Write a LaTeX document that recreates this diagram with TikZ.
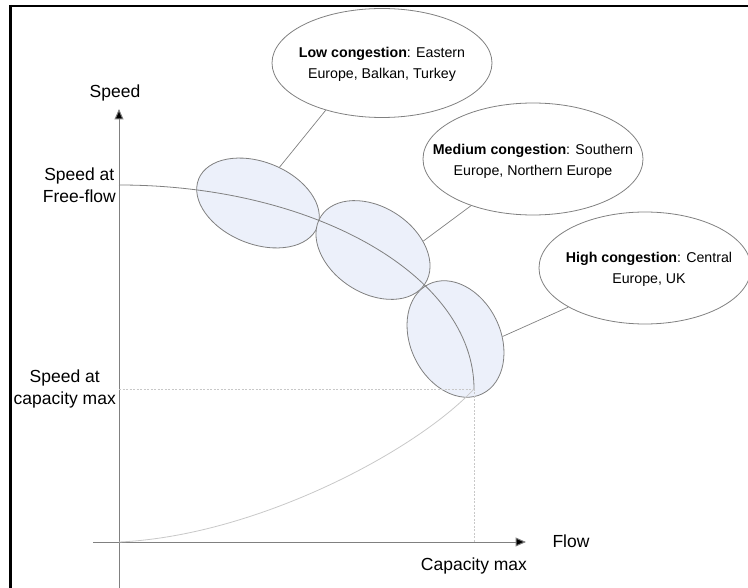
\documentclass[tikz,border=0pt]{standalone}
\usepackage{fontspec}
\setmainfont{Liberation Sans}
\usetikzlibrary{shapes.geometric,arrows.meta}
\definecolor{axisgray}{HTML}{808080}
\definecolor{lightcurve}{HTML}{C8C8C8}
\definecolor{bubble}{HTML}{ECF0FA}
\begin{document}
\begin{tikzpicture}[x=1pt,y=-1pt,
  regime/.style={ellipse,draw=axisgray,line width=0.8pt,fill=bubble,inner sep=0pt},
  callout/.style={ellipse,draw=axisgray,line width=0.8pt,fill=white,inner sep=0pt},
  callouttext/.style={align=center,inner sep=0pt,font=\fontsize{14.2}{21}\selectfont},
  axislabel/.style={align=center,inner sep=0pt,font=\fontsize{17.5}{22}\selectfont},
  axisline/.style={draw=axisgray,line width=1pt,-{Triangle[length=10.5pt,width=9pt,fill=black]}},
  guide/.style={draw=lightcurve,line width=0.8pt,dash pattern=on 2pt off 1.5pt},
  leader/.style={draw=axisgray,line width=0.7pt}]
\useasboundingbox (0,0) rectangle (748,588);

% page frame
\draw[line width=2pt] (9,6) -- (748,6);
\draw[line width=3pt] (10.5,5) -- (10.5,588);

% key points of the speed-flow diagram
\coordinate (origin) at (119,542);
\coordinate (free) at (119,185);
\coordinate (cap) at (474,389);
\coordinate (capaxis) at (474,542);
\coordinate (capspeed) at (119,389);
\coordinate (ybottom) at (119,588);
\coordinate (ytop) at (119,109);
\coordinate (xleft) at (93,542);
\coordinate (xright) at (526,542);

% congestion regimes along the curve
\node[regime,minimum width=128pt,minimum height=82pt,rotate=-22] (e1) at (258,203) {};
\node[regime,minimum width=124pt,minimum height=86pt,rotate=-33] (e2) at (373,250) {};
\node[regime,minimum width=122pt,minimum height=90pt,rotate=-64] (e3) at (455.5,339) {};

% axes
\draw[axisline] (ybottom) -- (ytop);
\draw[axisline] (xleft) -- (xright);

% guide lines to the capacity point
\draw[guide] (capspeed) -- (cap);
\draw[guide] (cap) -- (capaxis);

% speed-flow curve: congested branch and free-flow branch
\draw[draw=lightcurve,line width=0.8pt] (origin) .. controls (255,536) and (415,452) .. (cap);
\draw[draw=axisgray,line width=0.8pt] (free) arc[start angle=-90,end angle=0,x radius=355,y radius=204];

% callouts
\node[callout,minimum width=220pt,minimum height=109pt] (low) at (382,63) {};
\node[callouttext] (lowtxt) at (382,64) {\textbf{Low congestion}: Eastern\\Europe, Balkan, Turkey};
\node[callout,minimum width=220pt,minimum height=112pt] (med) at (533,159) {};
\node[callouttext] (medtxt) at (533,161) {\textbf{Medium congestion}: Southern\\Europe, Northern Europe};
\node[callout,minimum width=212pt,minimum height=112pt] (high) at (645,268) {};
\node[callouttext] (hightxt) at (649,269) {\textbf{High congestion}: Central\\Europe, UK};

% leaders from regimes to callouts
\draw[leader] (e1.81) -- (low.220);
\draw[leader] (e2.43) -- (med.217);
\draw[leader] (e3.67) -- (high.207);

% axis labels
\node[axislabel] (speedlbl) at (115,93) {Speed};
\node[axislabel] (flowlbl) at (571,541) {Flow};
\node[axislabel] (caplbl) at (474,566) {Capacity max};
\node[axislabel,anchor=east] (freelbl) at (116,185) {Speed at\\Free-flow};
\node[axislabel,anchor=east] (capspdlbl) at (116,389) {Speed at\\capacity max};
\end{tikzpicture}
\end{document}
